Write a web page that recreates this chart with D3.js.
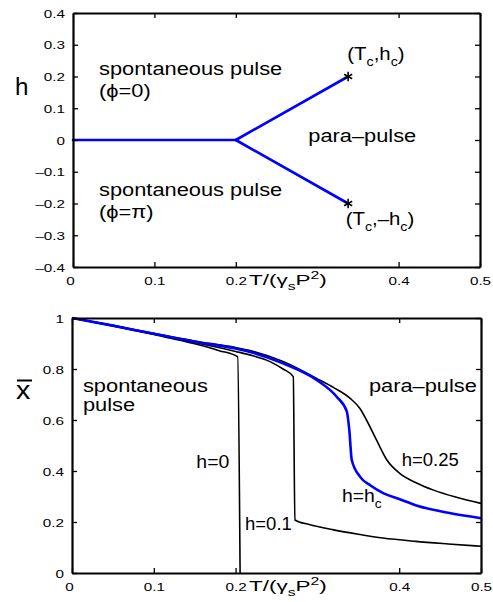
<!DOCTYPE html>
<html><head><meta charset="utf-8">
<script src="https://cdn.jsdelivr.net/npm/d3@7"></script>
<style>
body{margin:0;background:#fff}
svg{display:block}
text{font-family:"Liberation Sans",Arial,Helvetica,sans-serif;fill:#000}
.ax path.domain{stroke:#000;stroke-width:2.2px}
.ax .tick line{stroke:#000;stroke-width:1.3px}
</style>
</head><body>
<svg id="c" width="493" height="602"></svg>
<script>
// ---------- data ----------
const xTicks = [0, 0.1, 0.2, 0.4, 0.5];
const topYTicks = [-0.4, -0.3, -0.2, -0.1, 0, 0.1, 0.2, 0.3, 0.4];
const botYTicks = [0, 0.2, 0.4, 0.6, 0.8, 1];

const Tc = 0.338, hc = 0.2;
const boundaryZero = [[0, 0], [0.2, 0]];
const boundaryUpper = [[0.2, 0], [Tc, hc]];
const boundaryLower = [[0.2, 0], [Tc, -hc]];
const criticalPoints = [[Tc, hc], [Tc, -hc]];

const curveH0 = [[0,1],[0.05,0.969],[0.1,0.935],[0.15,0.899],[0.18,0.872],[0.2025,0.848],[0.2055,0]];
const curveH01 = [[0,1],[0.05,0.970],[0.1,0.937],[0.15,0.904],[0.2,0.869],[0.22,0.853],[0.242,0.829],[0.258,0.80],[0.2705,0.770],[0.2725,0.208],[0.29,0.19],[0.32,0.169],[0.35,0.152],[0.38,0.137],[0.42,0.124],[0.46,0.114],[0.5,0.105]];
const curveHc = [[0,1],[0.05,0.970],[0.1,0.938],[0.15,0.907],[0.2,0.880],[0.2176,0.867],[0.258,0.822],[0.299,0.757],[0.3236,0.691],[0.336,0.633],[0.339,0.561],[0.342,0.443],[0.352,0.378],[0.365,0.343],[0.381,0.3125],[0.40,0.29],[0.421,0.265],[0.46,0.236],[0.5,0.215]];
const curveH025 = [[0,1],[0.05,0.971],[0.1,0.940],[0.15,0.910],[0.2,0.884],[0.2176,0.872],[0.258,0.829],[0.299,0.763],[0.32,0.727],[0.34,0.685],[0.352,0.645],[0.36,0.60],[0.3725,0.52],[0.385,0.443],[0.401,0.39],[0.42,0.355],[0.442,0.325],[0.47,0.297],[0.5,0.273]];

// ---------- setup ----------
const svg = d3.select("#c");
const xTop = d3.scaleLinear().domain([0, 0.5]).range([73, 480]);
const yTop = d3.scaleLinear().domain([-0.4, 0.4]).range([267, 13]);
const xBot = d3.scaleLinear().domain([0, 0.5]).range([72, 481]);
const yBot = d3.scaleLinear().domain([0, 1]).range([573, 318]);

const TICK_FS = 10.5, TICK_SX = 1.45;
const ANN_FS = 18.5, ANN_SX = 1.18;

function put(g, px, py, parts, fs, sx, anchor) {
  const t = g.append("text")
    .attr("transform", `translate(${px},${py}) scale(${sx},1)`)
    .attr("font-size", fs)
    .attr("text-anchor", anchor || "start");
  if (typeof parts === "string") { t.text(parts); return t; }
  let shift = 0;
  parts.forEach(([s, kind]) => {
    const sp = t.append("tspan").text(s);
    let target = 0;
    if (kind === "sub") { target = fs * 0.32; sp.attr("font-size", fs * 0.7); }
    else if (kind === "sup") { target = -fs * 0.4; sp.attr("font-size", fs * 0.7); }
    sp.attr("dy", target - shift);
    shift = target;
  });
  return t;
}

function drawAxes(sx_, sy_, yTicks, fmtY) {
  const xr = sx_.range(), yr = sy_.range();
  const left = xr[0], right = xr[1], bottom = yr[0], top = yr[1];
  const fmtX = v => v === 0 ? "0" : v.toFixed(1);
  const gb = svg.append("g").attr("class", "ax").attr("transform", `translate(0,${bottom})`)
    .call(d3.axisBottom(sx_).tickValues(xTicks).tickFormat(fmtX).tickSizeInner(-5).tickSizeOuter(0).tickPadding(9));
  const gt = svg.append("g").attr("class", "ax").attr("transform", `translate(0,${top})`)
    .call(d3.axisTop(sx_).tickValues(xTicks).tickFormat("").tickSizeInner(-5).tickSizeOuter(0));
  const gl = svg.append("g").attr("class", "ax").attr("transform", `translate(${left},0)`)
    .call(d3.axisLeft(sy_).tickValues(yTicks).tickFormat(fmtY).tickSizeInner(-5).tickSizeOuter(0).tickPadding(8));
  const gr = svg.append("g").attr("class", "ax").attr("transform", `translate(${right},0)`)
    .call(d3.axisRight(sy_).tickValues(yTicks).tickFormat("").tickSizeInner(-5).tickSizeOuter(0));
  // style tick labels
  gb.selectAll(".tick text").attr("font-size", TICK_FS).attr("y", 0).attr("dy", 0)
    .attr("transform", d => `translate(${d === 0 ? -3 : 0},18) scale(${TICK_SX},1)`);
  gl.selectAll(".tick text").attr("font-size", TICK_FS).attr("x", 0).attr("dy", 0)
    .attr("transform", `translate(-8,4) scale(${TICK_SX},1)`);
  // x label
  put(svg, 249, bottom + 18, [["T/(γ", ""], ["s", "sub"], ["P", ""], ["2", "sup"], [")", ""]], 15, 1.5, "start");
}

const fmtTop = v => v === 0 ? "0" : (v < 0 ? "\u2013" : "") + Math.abs(v).toFixed(1);
const fmtBot = v => (v === 0 ? "0" : v === 1 ? "1" : v.toFixed(1));

// ---------- top panel ----------
const lineTop = d3.line().x(d => xTop(d[0])).y(d => yTop(d[1]));
const gT = svg.append("g");
[boundaryZero, boundaryUpper, boundaryLower].forEach(d => {
  gT.append("path").attr("d", lineTop(d)).attr("fill", "none")
    .attr("stroke", "#0000ff").attr("stroke-width", 2.6).attr("stroke-linecap", "round");
});
const star = d3.symbol().type(d3.symbolAsterisk || d3.symbolCross).size(60);
criticalPoints.forEach(p => {
  gT.append("path").attr("d", star()).attr("transform", `translate(${xTop(p[0])},${yTop(p[1])})`)
    .attr("fill", "none").attr("stroke", "#000").attr("stroke-width", 1.6);
});
drawAxes(xTop, yTop, topYTicks, fmtTop);

put(gT, xTop(0.032), yTop(0.205), "spontaneous pulse", ANN_FS, ANN_SX);
put(gT, xTop(0.032), yTop(0.135), "(ϕ=0)", ANN_FS, ANN_SX);
put(gT, xTop(0.032), yTop(-0.176), "spontaneous pulse", ANN_FS, ANN_SX);
put(gT, xTop(0.032), yTop(-0.246), "(ϕ=π)", ANN_FS, ANN_SX);
put(gT, xTop(0.289), yTop(-0.006), "para\u2013pulse", ANN_FS, ANN_SX);
put(gT, xTop(0.337), yTop(0.252), [["(T", ""], ["c", "sub"], [",h", ""], ["c", "sub"], [")", ""]], ANN_FS, 1.1);
put(gT, xTop(0.335), yTop(-0.268), [["(T", ""], ["c", "sub"], [",\u2013h", ""], ["c", "sub"], [")", ""]], ANN_FS, 1.1);
put(gT, 15, 95, "h", 23, 1.05);

// ---------- bottom panel ----------
const lineBot = d3.line().x(d => xBot(d[0])).y(d => yBot(d[1])).curve(d3.curveMonotoneX);
const gB = svg.append("g");
[[curveH0, "#000", 1.6], [curveH01, "#000", 1.6], [curveH025, "#000", 1.6], [curveHc, "#0000ff", 2.6]].forEach(([d, c, w]) => {
  gB.append("path").attr("d", lineBot(d)).attr("fill", "none").attr("stroke", c).attr("stroke-width", w);
});
drawAxes(xBot, yBot, botYTicks, fmtBot);

put(gB, xBot(0.0134), yBot(0.71), "spontaneous", ANN_FS, ANN_SX);
put(gB, xBot(0.0134), yBot(0.635), "pulse", ANN_FS, ANN_SX);
put(gB, xBot(0.152), yBot(0.412), "h=0", ANN_FS, 1.05);
put(gB, xBot(0.2115), yBot(0.169), "h=0.1", ANN_FS, 1.0);
put(gB, xBot(0.363), yBot(0.71), "para\u2013pulse", ANN_FS, ANN_SX);
put(gB, xBot(0.403), yBot(0.42), "h=0.25", ANN_FS, 1.0);
put(gB, xBot(0.330), yBot(0.278), [["h=h", ""], ["c", "sub"]], ANN_FS, 1.05);
put(gB, 16, 399, "x", 26, 1.1);
gB.append("line").attr("x1", 17).attr("x2", 32).attr("y1", 380.5).attr("y2", 380.5).attr("stroke", "#000").attr("stroke-width", 2);
</script>
</body></html>
